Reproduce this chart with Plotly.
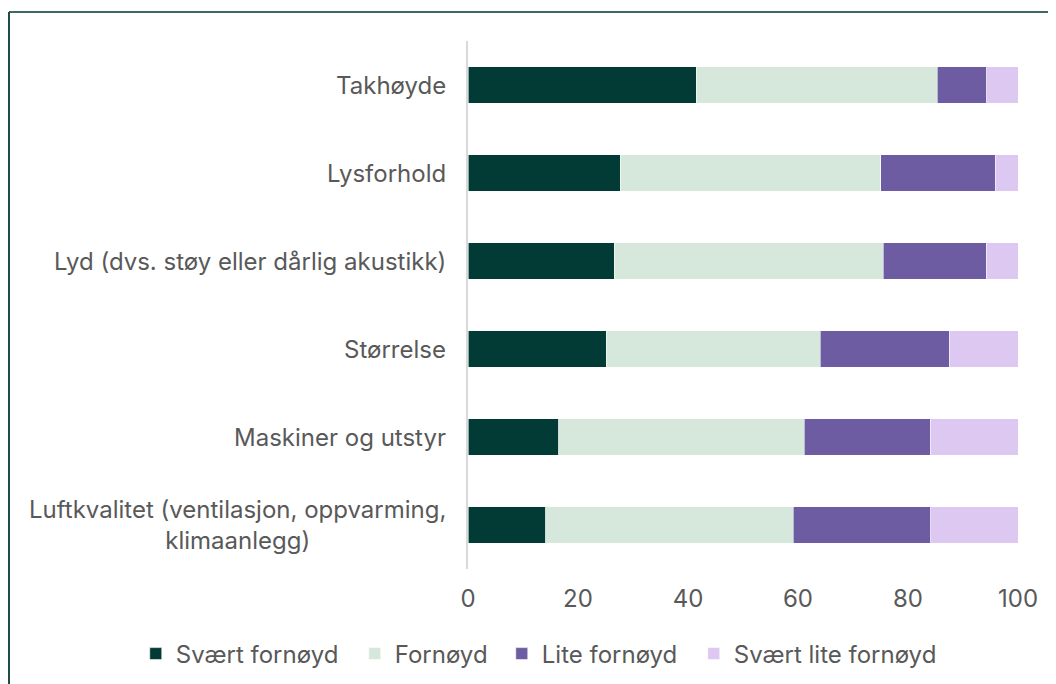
import plotly.graph_objects as go

categories = [
    "Takhøyde",
    "Lysforhold",
    "Lyd (dvs. støy eller dårlig akustikk)",
    "Størrelse",
    "Maskiner og utstyr",
    "Luftkvalitet (ventilasjon, oppvarming,<br>klimaanlegg)",
]
svaert_fornoyd = [41.5, 27.7, 26.6, 25.1, 16.5, 14.1]
fornoyd = [43.8, 47.3, 48.9, 38.9, 44.6, 45.0]
lite_fornoyd = [9.0, 20.9, 18.7, 23.5, 22.9, 25.0]
svaert_lite_fornoyd = [5.7, 4.1, 5.8, 12.5, 16.0, 15.9]

series = [
    ("Svært fornøyd", svaert_fornoyd, "#023b35"),
    ("Fornøyd", fornoyd, "#d6e8db"),
    ("Lite fornøyd", lite_fornoyd, "#6e5ca2"),
    ("Svært lite fornøyd", svaert_lite_fornoyd, "#dcc8f1"),
]
x_ticks = [0, 20, 40, 60, 80, 100]

FONT = "Inter"
TXT = "#595959"
FS = 24

OFF = 8  # default page body margin
W, H = 1056, 684
L, T = 468 - OFF, 41 - OFF
R = W - (1018 - OFF)
B = H - (569 - OFF)
pw, ph = W - L - R, H - T - B


def fx(win_px):
    return (win_px - OFF - L) / pw


def fy(win_py):
    return (H - B - (win_py - OFF)) / ph


fig = go.Figure()
legend_names = ["legend", "legend2", "legend3", "legend4"]
legend_starts = [135.75, 354.75, 501.75, 693.75]
for (name, vals, color), lg in zip(series, legend_names):
    fig.add_trace(go.Bar(
        y=categories, x=vals, name=name, orientation="h", legend=lg,
        marker=dict(color=color, line=dict(color="rgba(255,255,255,0.7)", width=0.8)),
    ))

annotations = []
for c in categories:
    annotations.append(dict(
        text=c, xref="paper", yref="y", x=fx(448), y=c,
        xanchor="right", yanchor="middle", align="center", showarrow=False,
        font=dict(family=FONT, size=FS, color=TXT),
    ))

shapes = [
    dict(type="line", xref="paper", yref="paper",
         x0=fx(9), x1=fx(1070), y0=fy(12), y1=fy(12),
         line=dict(color="#3d6b64", width=2)),
    dict(type="line", xref="paper", yref="paper",
         x0=fx(9), x1=fx(9), y0=fy(12), y1=fy(700),
         line=dict(color="#1f4d46", width=2)),
]

legend_layout = {}
for lg, start in zip(legend_names, legend_starts):
    legend_layout[lg] = dict(
        orientation="h", xref="paper", yref="paper",
        x=fx(start), y=fy(654), xanchor="left", yanchor="middle",
        font=dict(family=FONT, size=FS, color=TXT),
        itemwidth=30, bgcolor="rgba(0,0,0,0)", borderwidth=0,
    )

fig.update_layout(
    barmode="stack",
    bargap=0.59,
    width=W, height=H,
    margin=dict(l=L, r=R, t=T, b=B),
    paper_bgcolor="white", plot_bgcolor="white",
    font=dict(family=FONT, size=FS, color=TXT),
    showlegend=True,
    annotations=annotations,
    shapes=shapes,
    **legend_layout,
)
fig.update_xaxes(
    range=[0, 100], tickvals=x_ticks, showgrid=False, zeroline=False,
    showline=False, ticks="outside", ticklen=8, tickcolor="rgba(0,0,0,0)",
    tickfont=dict(family=FONT, size=FS, color=TXT), fixedrange=True,
)
fig.update_yaxes(
    categoryorder="array", categoryarray=categories[::-1],
    showticklabels=False, showgrid=False, zeroline=False,
    showline=True, linecolor="#d9d9d9", linewidth=2, ticks="",
)

fig.write_html("out.html")
